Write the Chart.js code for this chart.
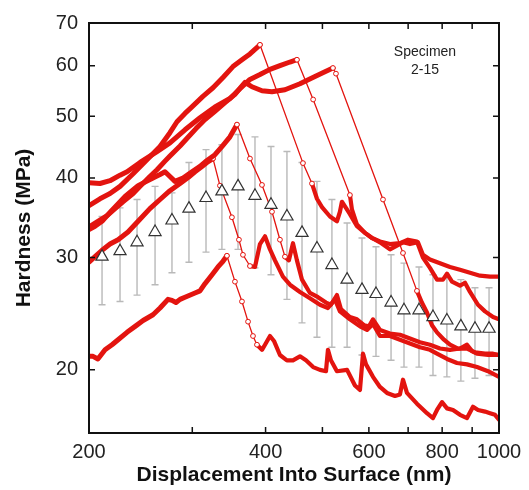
<!DOCTYPE html>
<html>
<head>
<meta charset="utf-8">
<title>Hardness vs displacement, Specimen 2-15</title>
<script src="https://cdn.jsdelivr.net/npm/chart.js@4.4.1/dist/chart.umd.min.js"></script>
<style>
  html, body { margin: 0; padding: 0; background: #fff; }
  #wrap { width: 529px; height: 490px; }
</style>
</head>
<body>
<div id="wrap"><canvas id="chart" width="529" height="490"></canvas></div>
<script>
// ── Axis ticks ─────────────────────────────────────────────────────────────
const xTicks  = [200, 300, 400, 500, 600, 700, 800, 900, 1000];
const xLabels = [200, 400, 600, 800, 1000];
const yTicks  = [20, 30, 40, 50, 60, 70];

// ── Averaged hardness (triangles) with error bars ─────────────────────────
const meanDepth = [210.5, 225.9, 241.5, 259.2, 277, 296.1, 316.6, 337, 359, 383.7, 408.6, 435, 461.5,
                   489.4, 519, 550.8, 584, 617, 654.6, 688.7, 730.5, 771.7, 815, 861, 910, 961.7];
const meanHard  = [30.1, 30.7, 31.7, 32.9, 34.3, 35.8, 37.2, 38.1, 38.8, 37.5, 36.3, 34.8, 32.8,
                   31.0, 29.2, 27.7, 26.7, 26.3, 25.5, 24.8, 24.8, 24.2, 23.9, 23.4, 23.2, 23.2];
const errHigh   = [34.8, 35.9, 37.0, 38.8, 37.9, 42.3, 44.3, 45.1, 46.8, 46.4, 44.8, 44.0, 42.3,
                   39.5, 37.0, 34.0, 32.2, 31.2, 30.3, 29.4, 29.0, 28.2, 27.9, 27.7, 26.9, 26.9];
const errLow    = [25.3, 25.6, 26.2, 27.2, 28.4, 29.5, 30.6, 30.9, 30.9, 28.9, 28.2, 25.8, 23.7,
                   22.5, 21.7, 21.7, 21.1, 21.0, 20.7, 20.2, 20.2, 19.6, 19.5, 19.2, 19.4, 19.6];

// ── Individual indents: [depth nm, hardness MPa] ──────────────────────────
// each one split into loading part, the pop-in drop and the tail after it
const aRise = [[200,36.2],[208.8,37.1],[217.2,37.8],[225.9,38.8],[237.8,40.6],[251.1,42.7],[264.3,44.8],
  [274.8,47.1],[282.5,49.0],[291.5,50.5],[299.6,51.7],[312.8,53.7],[325.4,55.4],[338.4,57.5],[351.9,59.8],
  [364.6,61.3],[376.2,62.6],[391.3,64.7]];
const aDrop = [[391.3,64.7],[463.2,42.2],[479.9,39.2]];
const aTail = [[479.9,39.2],[489.4,37.1],[499.1,36.0],[515,34.8],[529.3,34.2],[535.6,35.4],[539.8,36.7],
  [548.4,35.9],[557,35.1],[572.6,33.6],[590.9,32.8],[607.4,32.2],[626.7,31.7],[651.8,30.9],[686,31.7],
  [705,31.5],[727.5,31.7],[741.9,30.3],[762.6,29.8],[793.2,29.4],[825,29.0],[858,28.7],[892.4,28.4],
  [928,28.1],[965.4,28.0],[1000,28.0]];

const bRise = [[200,39.3],[208.8,39.2],[217.2,39.6],[225.9,40.4],[232.2,40.9],[244.4,42.3],[261.2,44.0],
  [274.8,45.4],[291.5,47.6],[309.2,49.7],[327.9,51.7],[347.8,53.3],[361.7,55.2],[376.2,57.1],[391.3,58.1],
  [407,59.2],[423.2,60.0],[440.2,60.8],[452.4,61.3]];
const bDrop = [[452.4,61.3],[482.1,53.1],[557,37.6]];
const bTail = [[557,37.6],[561.4,35.7],[572.6,33.8],[590.9,32.8],[607.4,32.2],[626.7,31.8],[651.8,31.5],
  [677.9,31.6],[699.6,32.0],[724.6,31.8],[741.9,30.0],[762.6,28.9],[784,27.7],[802.6,27.7],[815.4,28.3],
  [831.5,27.5],[858,27.1],[875,27.4],[892.4,26.5],[920.8,25.3],[946.6,24.7],[977,24.2],[1000,24.0]];

const cRise = [[200,33.5],[207.1,34.2],[214.7,34.9],[221.5,35.8],[228.5,36.7],[237.8,37.8],[244.4,38.8],
  [254,40.2],[261.2,41.2],[269.5,42.5],[274.8,43.3],[285.9,44.9],[294.2,46.2],[304.4,47.8],[315.3,49.4],
  [327.9,50.9],[341.1,52.5],[354.7,54.1],[361.7,55.3],[369,56.5],[379.2,55.6],[394.4,54.8],[410.2,54.6],
  [431.6,55.0],[457.8,56.2],[485.6,57.7],[505,58.7],[521.1,59.5]];
const cDrop = [[521.1,59.5],[527.3,58.3],[634.2,37.0],[686,30.5],[724.6,26.6]];
const cTail = [[724.6,26.6],[738.8,25.5],[753.7,24.6],[768.7,23.5],[784,22.9],[805.7,22.3],[825,21.9],
  [851.4,21.6],[882,21.6],[910,21.3],[946.6,21.2],[977,21.2],[1000,21.1]];

const dRise = [[200,33.2],[204.8,33.6],[210.5,34.2],[218.9,35.6],[230.4,37.4],[242.5,38.9],[257.1,40.0],
  [264.3,40.5],[269.5,40.9],[274.8,40.2],[280.3,39.5],[289.3,40.0],[299.6,40.9],[309.2,41.7],[317.8,42.6],
  [327.9,43.5],[338.4,45.0],[347.8,46.4],[357.5,48.5]];
const dDrop = [[357.5,48.5],[376.2,42.9],[394.4,39.0],[410.2,35.4],[423.2,32.0],[431.6,30.1]];
const dTail = [[431.6,30.1],[438.4,29.7],[445.4,31.6],[452.4,29.7],[461.5,27.7],[476.1,26.4],[491.4,26.0],
  [507,25.5],[517,25.3],[529.3,26.2],[537.7,24.9],[557,24.2],[572.6,24.0],[588.6,23.5],[600.2,23.4],
  [609.8,24.0],[626.7,23.1],[651.8,22.8],[677.9,22.7],[705,22.4],[733.2,22.1],[762.6,21.9],[793.2,21.6],
  [825,21.5],[858,21.6],[882,21.9],[899.5,21.4],[917.3,21.2],[957.8,21.1],[1000,21.1]];

const eRise = [[200,29.5],[204.8,30.1],[210.5,30.8],[217.2,31.5],[224.2,32.0],[233.1,32.9],[242.5,34.2],
  [254,35.8],[264.3,37.0],[274.8,38.2],[285.9,39.2],[295.5,40.1],[303.2,40.9],[311.6,41.7],[317.8,42.3],
  [325.4,42.9]];
const eDrop = [[325.4,42.9],[334.4,38.9],[350.5,34.7],[360.3,32.0],[366,30.3],[376.2,29.1]];
const eTail = [[376.2,29.1],[383.7,29.0],[391.3,31.5],[399.1,32.4],[407,30.9],[415,29.7],[428.2,28.0],
  [440.2,27.2],[457.8,26.5],[476.1,25.9],[495.2,25.3],[511,25.0],[525.2,25.8],[535.6,24.7],[557,24.0],
  [579.4,23.4],[595.6,23.1],[609.8,23.6],[626.7,22.6],[651.8,22.6],[677.9,22.3],[705,22.0],[733.2,21.7],
  [762.6,21.5],[784,21.2],[815.4,20.8],[848,20.5],[882,20.4],[917.3,20.2],[957.8,19.9],[1000,19.5]];

const fRise = [[200,21.0],[203.2,21.0],[207.1,20.8],[213,21.5],[218.9,21.9],[224.2,22.3],[232.2,22.9],
  [239.7,23.4],[247.3,23.9],[257.1,24.4],[264.3,25.0],[272.7,25.8],[277,25.7],[281.4,25.5],[285.9,25.8],
  [291.5,26.0],[303.2,26.4],[309.2,26.6],[315.3,27.3],[324.2,28.2],[331.8,29.0],[338.4,29.6],[343.7,30.2]];
const fDrop = [[343.7,30.2],[354.7,27.5],[364.6,25.6],[373.4,23.8],[380.7,22.6],[386.7,21.9]];
const fTail = [[386.7,21.9],[394.4,21.5],[399.1,21.9],[407,22.6],[413.4,22.2],[423.2,21.1],[434.9,20.7],
  [445.4,20.7],[457.8,21.0],[468.7,20.7],[482.1,20.2],[495.2,20.0],[507,19.9],[511,21.5],[517,20.7],
  [529.3,19.9],[550.8,20.0],[568.1,18.9],[579.4,18.6],[586.3,21.2],[593.3,20.4],[609.8,19.5],[626.7,18.8],
  [644.2,18.4],[664.8,18.2],[677.9,18.3],[686,19.3],[696.8,18.4],[724.6,17.7],[753.7,17.1],[771.6,16.8],
  [784,17.3],[799.5,17.8],[815.4,17.4],[834.8,17.3],[858,17.0],[882,16.8],[903,17.5],[921,17.3],
  [946.6,17.2],[965.4,17.1],[984.5,17.0],[1000,16.7]];

const indents = [
  { rise: aRise, drop: aDrop, tail: aTail },
  { rise: bRise, drop: bDrop, tail: bTail },
  { rise: cRise, drop: cDrop, tail: cTail },
  { rise: dRise, drop: dDrop, tail: dTail },
  { rise: eRise, drop: eDrop, tail: eTail },
  { rise: fRise, drop: fDrop, tail: fTail },
];

// ── Style ──────────────────────────────────────────────────────────────────
const RED  = '#e3140f';
const FONT = '"Liberation Sans", Arial, Helvetica, sans-serif';
Chart.defaults.font.family = FONT;
Chart.defaults.color = '#222';

const toXY = pts => pts.map(p => ({ x: p[0], y: p[1] }));

function thick(pts, w) {
  return {
    data: toXY(pts), showLine: true, borderColor: RED, borderWidth: w,
    borderJoinStyle: 'round', borderCapStyle: 'round', pointRadius: 0, tension: 0,
  };
}
function thin(pts) {
  return {
    data: toXY(pts), showLine: true, borderColor: RED, borderWidth: 1.3,
    pointRadius: 2.4, pointBorderWidth: 1, pointBorderColor: RED, pointBackgroundColor: '#fff', tension: 0,
  };
}

// triangles first so they sit on top of the red curves
const datasets = [{
  data: meanDepth.map((d, i) => ({ x: d, y: meanHard[i] })),
  pointStyle: 'triangle', pointRadius: 7, pointBorderWidth: 1.2,
  pointBorderColor: '#333', pointBackgroundColor: '#fff', showLine: false,
}];
indents.forEach(c => {
  datasets.push(thin(c.drop));
  datasets.push(thick(c.rise, 5));
  datasets.push(thick(c.tail, 4.2));
});

// error bars under the curves, frame + inward ticks + label on top
const decor = {
  id: 'decor',
  beforeDatasetsDraw(chart) {
    const { ctx, scales: { x, y } } = chart;
    ctx.save();
    ctx.strokeStyle = '#b9b9b9';
    ctx.lineWidth = 1.4;
    meanDepth.forEach((d, i) => {
      const px = x.getPixelForValue(d);
      const hi = y.getPixelForValue(errHigh[i]);
      const lo = y.getPixelForValue(errLow[i]);
      ctx.beginPath();
      ctx.moveTo(px, hi); ctx.lineTo(px, lo);
      ctx.moveTo(px - 3.5, hi); ctx.lineTo(px + 3.5, hi);
      ctx.moveTo(px - 3.5, lo); ctx.lineTo(px + 3.5, lo);
      ctx.stroke();
    });
    ctx.restore();
  },
  afterDatasetsDraw(chart) {
    const { ctx, chartArea: a, scales: { x, y } } = chart;
    ctx.save();
    ctx.strokeStyle = '#111';
    ctx.lineWidth = 2;
    ctx.strokeRect(a.left, a.top, a.right - a.left, a.bottom - a.top);
    ctx.lineWidth = 1.5;
    ctx.beginPath();
    xTicks.forEach(v => {
      const px = x.getPixelForValue(v);
      ctx.moveTo(px, a.bottom); ctx.lineTo(px, a.bottom - 6);
      ctx.moveTo(px, a.top);    ctx.lineTo(px, a.top + 6);
    });
    yTicks.forEach(v => {
      const py = y.getPixelForValue(v);
      ctx.moveTo(a.left, py);  ctx.lineTo(a.left + 6, py);
      ctx.moveTo(a.right, py); ctx.lineTo(a.right - 6, py);
    });
    ctx.stroke();

    ctx.fillStyle = '#222';
    ctx.font = '14px ' + FONT;
    ctx.textAlign = 'center';
    ctx.textBaseline = 'middle';
    ctx.fillText('Specimen', a.right - 74, a.top + 29);
    ctx.fillText('2-15', a.right - 74, a.top + 47);
    ctx.restore();
  }
};

new Chart(document.getElementById('chart'), {
  type: 'scatter',
  data: { datasets },
  options: {
    responsive: false,
    animation: false,
    layout: { padding: { left: 12, right: 30, top: 23, bottom: 2 } },
    plugins: { legend: { display: false }, tooltip: { enabled: false } },
    scales: {
      x: {
        type: 'logarithmic', min: 200, max: 1000,
        afterBuildTicks: s => { s.ticks = xTicks.map(v => ({ value: v })); },
        afterFit: s => { s.height = 55; },
        grid: { display: false, drawTicks: false },
        border: { display: false },
        ticks: {
          autoSkip: false, maxRotation: 0, padding: 7,
          font: { size: 20 }, color: '#222',
          callback: v => xLabels.includes(v) ? String(v) : '',
        },
        title: {
          display: true, text: 'Displacement Into Surface (nm)',
          font: { size: 21, weight: 'bold' }, color: '#111', padding: 0,
        },
      },
      y: {
        type: 'logarithmic', min: 15.92, max: 70,
        afterBuildTicks: s => { s.ticks = yTicks.map(v => ({ value: v })); },
        afterFit: s => { s.width = 77; },
        grid: { display: false, drawTicks: false },
        border: { display: false },
        ticks: {
          autoSkip: false, padding: 11,
          font: { size: 20 }, color: '#222',
          callback: v => String(v),
        },
        title: {
          display: true, text: 'Hardness (MPa)',
          font: { size: 21, weight: 'bold' }, color: '#111', padding: 0,
        },
      },
    },
  },
  plugins: [decor],
});
</script>
</body>
</html>
